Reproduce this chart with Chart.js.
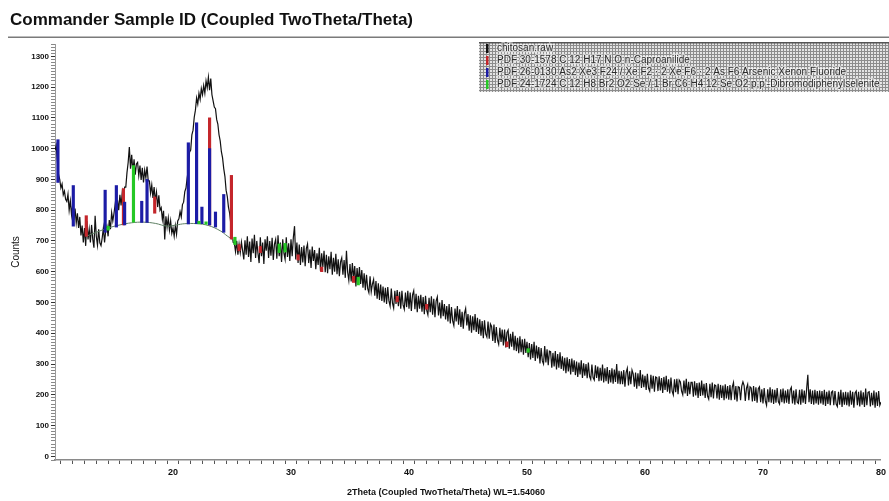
<!DOCTYPE html>
<html>
<head>
<meta charset="utf-8">
<script src="https://cdn.jsdelivr.net/npm/chart.js@4"></script>
<style>
  html, body { margin: 0; padding: 0; background: #fff; }
  #wrap { width: 889px; height: 501px; }
</style>
</head>
<body>
<div id="wrap"><canvas id="xrd" width="889" height="501"></canvas></div>
<script>
// scan: 2theta 10 -> 80, step 0.1, counts (one row per degree)
const thetaStart = 10;
const thetaStep = 0.1;
const counts = [
  995, 1010, 960, 915, 900, 872, 885, 850, 862, 835,      // 10
  828, 852, 800, 830, 785, 818, 768, 805, 758, 790,       // 11
  742, 778, 718, 750, 695, 742, 684, 765, 705, 738,       // 12
  695, 752, 706, 678, 782, 715, 686, 738, 694, 685,       // 13
  710, 742, 695, 735, 748, 715, 768, 738, 792, 765,       // 14
  790, 820, 782, 832, 800, 850, 815, 858, 830, 875,       // 15
  875, 922, 955, 1005, 935, 980, 925, 965, 915, 950,      // 16
  955, 912, 945, 898, 938, 890, 930, 905, 942, 895,       // 17
  895, 855, 882, 840, 875, 828, 858, 810, 848, 800,       // 18
  808, 770, 798, 705, 780, 745, 775, 735, 765, 725,       // 19
  742, 715, 750, 722, 765, 772, 795, 778, 818, 826,       // 20
  860, 872, 905, 930, 988, 995, 1045, 1060, 1102, 1125,   // 21
  1165, 1145, 1180, 1160, 1195, 1175, 1205, 1180, 1220, 1198, // 22
  1232, 1190, 1228, 1175, 1155, 1135, 1130, 1095, 1080, 1045, // 23
  1025, 990, 970, 935, 910, 865, 845, 810, 790, 755,      // 24
  725, 695, 692, 665, 700, 655, 690, 662, 696, 668,       // 25
  640, 702, 655, 715, 648, 698, 632, 708, 660, 720,       // 26
  645, 700, 660, 628, 712, 650, 695, 625, 705, 668,       // 27
  715, 645, 700, 652, 710, 638, 690, 705, 642, 718,       // 28
  650, 695, 632, 705, 660, 640, 712, 648, 692, 635,       // 29
  705, 650, 712, 748, 640, 695, 628, 688, 622, 680,       // 30
  630, 685, 618, 675, 690, 628, 672, 612, 682, 635,       // 31
  670, 608, 660, 622, 678, 602, 660, 615, 668, 598,       // 32
  655, 595, 650, 608, 665, 590, 645, 600, 658, 592,       // 33
  640, 585, 632, 645, 590, 638, 580, 668, 598, 572,       // 34
  625, 568, 628, 578, 618, 552, 612, 565, 615, 560,       // 35
  605, 548, 595, 540, 590, 545, 532, 585, 535, 560,       // 36
  575, 522, 570, 512, 562, 508, 558, 505, 552, 500,       // 37
  548, 495, 550, 505, 488, 545, 498, 482, 538, 495,       // 38
  540, 488, 535, 480, 538, 492, 478, 532, 485, 538,       // 39
  480, 532, 472, 525, 538, 478, 528, 468, 522, 480,       // 40
  525, 470, 518, 462, 522, 475, 460, 515, 468, 520,       // 41
  460, 512, 452, 505, 518, 458, 500, 448, 508, 455,       // 42
  495, 445, 488, 438, 495, 432, 485, 440, 425, 480,       // 43
  438, 488, 428, 478, 420, 470, 415, 465, 480, 425,       // 44
  462, 408, 458, 402, 455, 410, 462, 404, 450, 398,       // 45
  445, 392, 440, 384, 442, 398, 388, 438, 382, 430,       // 46
  422, 375, 428, 368, 420, 378, 364, 418, 372, 412,       // 47
  360, 412, 354, 402, 410, 350, 398, 356, 405, 345,       // 48
  392, 342, 385, 335, 390, 338, 380, 330, 382, 336,       // 49
  372, 322, 368, 315, 365, 320, 372, 310, 360, 318,       // 50
  355, 302, 352, 310, 300, 358, 305, 348, 296, 342,       // 51
  340, 288, 336, 292, 342, 282, 332, 288, 338, 284,       // 52
  325, 278, 320, 270, 322, 276, 316, 266, 318, 274,       // 53
  312, 264, 308, 258, 305, 266, 312, 255, 302, 262,       // 54
  300, 254, 305, 260, 250, 298, 256, 248, 296, 255,       // 55
  292, 244, 288, 246, 298, 240, 286, 244, 290, 236,       // 56
  280, 240, 286, 236, 282, 242, 300, 236, 278, 234,       // 57
  276, 234, 280, 226, 272, 286, 230, 276, 234, 280,       // 58
  268, 226, 272, 220, 270, 228, 280, 222, 266, 225,       // 59
  262, 216, 268, 222, 212, 265, 220, 262, 210, 258,       // 60
  256, 212, 260, 214, 254, 206, 258, 216, 262, 210,       // 61
  250, 204, 256, 212, 200, 250, 208, 252, 202, 248,       // 62
  242, 212, 200, 246, 204, 252, 196, 242, 202, 240,       // 63
  240, 194, 244, 198, 238, 190, 240, 196, 246, 198,       // 64
  236, 190, 238, 196, 186, 236, 192, 240, 188, 232,       // 65
  230, 188, 236, 184, 232, 190, 230, 182, 234, 188,       // 66
  228, 184, 232, 182, 226, 240, 184, 228, 178, 226,       // 67
  224, 182, 228, 242, 230, 180, 222, 234, 182, 226,       // 68
  222, 178, 228, 180, 224, 174, 220, 226, 176, 218,       // 69
  172, 222, 180, 166, 218, 176, 224, 174, 218, 170,       // 70
  216, 174, 222, 178, 170, 218, 176, 220, 172, 214,       // 71
  174, 218, 170, 216, 224, 172, 214, 168, 218, 176,       // 72
  172, 216, 168, 218, 174, 214, 170, 220, 265, 176,       // 73
  218, 170, 214, 168, 216, 172, 212, 168, 214, 172,       // 74
  212, 168, 216, 164, 210, 170, 214, 166, 208, 212,       // 75
  166, 212, 170, 162, 210, 168, 216, 160, 208, 168,       // 76
  210, 166, 208, 162, 214, 168, 210, 158, 206, 212,       // 77
  166, 210, 162, 214, 168, 208, 160, 220, 166, 208,       // 78
  210, 162, 206, 166, 214, 158, 208, 164, 212, 166,       // 79
  176                                                      // 80
];

// fitted background under the amorphous humps
const bgTheta  = [12.7, 13.5, 14.5, 15.5, 16.5, 17.5, 18.5, 19.5, 20.3, 21.0, 22.0, 23.0, 24.0, 24.6, 25.2];
const bgCounts = [716, 728, 742, 752, 759, 761, 757, 748, 752, 756, 756, 750, 733, 716, 700];

// reference pattern sticks (position, foot, top)
const blueTheta = [10.25, 11.55, 14.25, 15.2, 15.9, 17.35, 17.8, 21.3, 22.0, 22.45, 23.1, 23.6, 24.3];
const blueBase  = [890, 748, 728, 745, 752, 760, 760, 755, 756, 756, 752, 745, 728];
const blueTop   = [1029, 880, 865, 880, 826, 829, 900, 1019, 1084, 810, 1000, 794, 851];

const redTheta = [12.65, 15.8, 18.45, 23.1, 24.95, 25.6, 27.4, 30.6, 32.6, 35.3, 39.0, 41.5, 48.3];
const redBase  = [715, 752, 790, 752, 706, 668, 662, 638, 600, 565, 502, 478, 356];
const redTop   = [782, 870, 843, 1100, 913, 688, 682, 655, 615, 585, 520, 494, 372];

const greenTheta = [14.5, 16.65, 22.2, 22.8, 25.25, 29.0, 29.5, 35.7, 50.1];
const greenBase  = [735, 761, 756, 754, 688, 662, 664, 557, 338];
const greenTop   = [748, 945, 764, 762, 712, 690, 692, 582, 350];

const legendNames = [
  'chitosan.raw',
  'PDF 30-1578 C 12 H17 N O n-Caproanilide',
  'PDF 26-0130 As2 Xe3 F24 / Xe F2 · 2 Xe F6 · 2 As F6 Arsenic Xenon Fluoride',
  "PDF 24-1724 C 12 H8 Br2 O2 Se / 1 Br C6 H4 12 Se O2 p,p'-Dibromodiphenylselenite"
];
const legendColors = ['#111111', '#c4262b', '#1c1ca6', '#25c825'];

const titleText = 'Commander Sample ID (Coupled TwoTheta/Theta)';
const xTitle = '2Theta (Coupled TwoTheta/Theta) WL=1.54060';
const yTitle = 'Counts';

const FONT = "'Liberation Sans', Arial, sans-serif";

const rawPoints = counts.map((c, i) => ({ x: +(thetaStart + i * thetaStep).toFixed(2), y: c }));
const bgPoints = bgTheta.map((t, i) => ({ x: t, y: bgCounts[i] }));
function sticks(th, lo, hi) {
  return th.map((t, i) => ({ x: t, y: [lo[i], hi[i]] }));
}

// grey hatched legend box, like the diffrac software
const legendBox = {
  id: 'legendBox',
  afterDraw(chart) {
    const ctx = chart.ctx;
    const pc = document.createElement('canvas');
    pc.width = 3; pc.height = 3;
    const p = pc.getContext('2d');
    p.fillStyle = '#e4e4e4';
    p.fillRect(0, 0, 3, 3);
    p.fillStyle = '#8c8c8c';
    p.fillRect(0, 0, 1, 3);
    p.fillRect(0, 0, 3, 1);
    ctx.save();
    ctx.fillStyle = ctx.createPattern(pc, 'repeat');
    ctx.fillRect(479, 42, 410, 50);
    ctx.fillStyle = '#555';
    ctx.fillRect(479, 42, 410, 1.5);
    ctx.font = '10px ' + FONT;
    ctx.textBaseline = 'middle';
    legendNames.forEach((name, i) => {
      const y = 48.5 + i * 12;
      ctx.fillStyle = legendColors[i];
      ctx.fillRect(486, y - 4.5, 2.5, 9);
      ctx.lineWidth = 2.5;
      ctx.strokeStyle = 'rgba(255,255,255,0.55)';
      ctx.strokeText(name, 497, y);
      ctx.fillStyle = '#2a2a2a';
      ctx.fillText(name, 497, y);
    });
    // rule under the title
    ctx.fillStyle = '#7a7a7a';
    ctx.fillRect(8, 36.5, 881, 1.5);
    // x axis title
    ctx.font = 'bold 9px ' + FONT;
    ctx.fillStyle = '#111';
    ctx.textAlign = 'center';
    ctx.textBaseline = 'middle';
    ctx.fillText(xTitle, 446, 493);
    ctx.restore();
  }
};

new Chart(document.getElementById('xrd'), {
  type: 'line',
  data: {
    datasets: [
      {
        label: legendNames[0],
        data: rawPoints,
        borderColor: '#111',
        borderWidth: 1.2,
        pointRadius: 0,
        tension: 0,
        order: 10
      },
      {
        label: 'background',
        data: bgPoints,
        borderColor: '#5d7f62',
        borderWidth: 1,
        pointRadius: 0,
        tension: 0.4,
        order: 9
      },
      {
        type: 'bar',
        label: legendNames[1],
        data: sticks(redTheta, redBase, redTop),
        backgroundColor: legendColors[1],
        barThickness: 2.5,
        grouped: false,
        order: 3
      },
      {
        type: 'bar',
        label: legendNames[2],
        data: sticks(blueTheta, blueBase, blueTop),
        backgroundColor: legendColors[2],
        barThickness: 2.5,
        grouped: false,
        order: 2
      },
      {
        type: 'bar',
        label: legendNames[3],
        data: sticks(greenTheta, greenBase, greenTop),
        backgroundColor: legendColors[3],
        barThickness: 2.5,
        grouped: false,
        order: 1
      }
    ]
  },
  options: {
    responsive: false,
    animation: false,
    layout: { padding: { left: 10, right: 6, top: 0, bottom: 0 } },
    plugins: {
      legend: { display: false },
      tooltip: { enabled: false },
      title: {
        display: true,
        text: titleText,
        align: 'start',
        color: '#111',
        font: { family: FONT, size: 17, weight: 'bold' },
        padding: { top: 10, bottom: 13.6 }
      }
    },
    scales: {
      x: {
        type: 'linear',
        min: 10,
        max: 80,
        offset: false,
        grid: { drawOnChartArea: false, tickLength: 4, tickColor: '#555' },
        border: { color: '#8a8a8a', width: 1.5 },
        ticks: {
          stepSize: 1,
          autoSkip: false,
          maxRotation: 0,
          padding: 3,
          color: '#111',
          font: { family: FONT, size: 9, weight: 'bold' },
          callback: v => (v % 10 === 0 && v !== 10) ? v : ''
        },
        afterFit(scale) { scale.height = 41; }
      },
      y: {
        min: -12,
        max: 1340,
        grid: {
          drawOnChartArea: false,
          tickLength: 4,
          tickColor: ctx => (ctx.tick && ctx.tick.value % 100 === 0) ? '#333' : '#888'
        },
        border: { color: '#9a9a9a', width: 1 },
        ticks: {
          stepSize: 10,
          autoSkip: false,
          padding: 2,
          color: '#111',
          font: { family: FONT, size: 8, weight: 'bold' },
          callback: v => (v % 100 === 0) ? v : ''
        },
        title: {
          display: true,
          text: yTitle,
          color: '#111',
          font: { family: FONT, size: 10 },
          padding: { top: 0, bottom: 0 }
        },
        afterFit(scale) { scale.width = 45; }
      }
    }
  },
  plugins: [legendBox]
});
</script>
</body>
</html>
